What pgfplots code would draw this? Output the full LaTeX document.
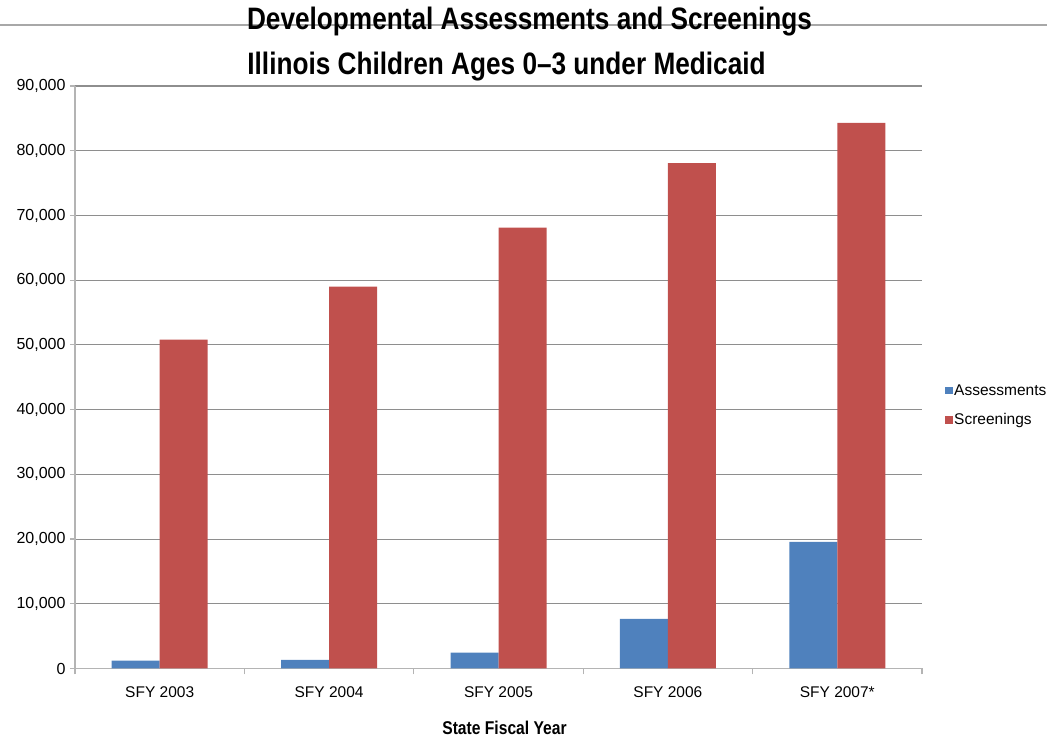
\documentclass[border=0pt]{standalone}
\usepackage{fontspec}
\setmainfont{Liberation Sans}
\newfontfamily\narrowfont[FakeStretch=0.845]{Liberation Sans}
\usepackage{pgfplots}
\pgfplotsset{compat=1.18}
\definecolor{cblue}{HTML}{4F81BD}
\definecolor{cred}{HTML}{C0504D}
\definecolor{gridgray}{HTML}{8E8E8E}
\definecolor{axisgray}{HTML}{B4B4B4}
\definecolor{rulegray}{HTML}{A8A8A8}
\begin{document}
\begin{tikzpicture}[x=1pt,y=1pt]
\path[use as bounding box] (0,0) rectangle (1047,741);
\draw[rulegray, line width=1.5pt] (0,716) -- (1047,716);
\node[anchor=base, inner sep=0] at (529.5,711) {\narrowfont\bfseries\fontsize{31}{36}\selectfont Developmental Assessments and Screenings};
\node[anchor=base, inner sep=0] at (506.5,666) {\narrowfont\bfseries\fontsize{31}{36}\selectfont Illinois Children Ages 0–3 under Medicaid};
\begin{axis}[
  at={(75pt,72.5pt)}, anchor=south west,
  width=847pt, height=582.5pt, scale only axis,
  ybar=0pt, bar width=48pt,
  xmin=-0.5, xmax=4.5, ymin=0, ymax=90000,
  xtick={0,1,2,3,4},
  xticklabels={SFY 2003,SFY 2004,SFY 2005,SFY 2006,SFY 2007*},
  minor xtick={-0.5,0.5,1.5,2.5,3.5,4.5},
  ytick={0,10000,...,90000},
  scaled y ticks=false,
  axis lines*=left,
  axis line style={draw=axisgray, line width=1.5pt},
  tick align=outside,
  major tick length=5pt, minor tick length=6pt,
  every major x tick/.append style={draw=none},
  tick style={draw=axisgray, line width=1.2pt},
  ymajorgrids,
  major grid style={draw=gridgray, line width=1.1pt},
  tick label style={font=\fontsize{15.5}{18}\selectfont},
  yticklabel style={font=\fontsize{16}{19}\selectfont, xshift=-1pt},
  xticklabel style={yshift=-10pt},
  /pgf/number format/.cd, 1000 sep={,}, assume math mode=true, /pgfplots/.cd,
  xlabel={State Fiscal Year},
  xlabel style={font=\narrowfont\bfseries\fontsize{18.5}{22}\selectfont, at={(axis description cs:0.5,0)}, anchor=center, yshift=-59.5pt, xshift=6pt},
  legend style={at={(1,0.4515)}, anchor=west, xshift=23pt, draw=none, fill=none, inner sep=0pt,
    font=\fontsize{15.5}{18}\selectfont, row sep=17pt,
    nodes={inner sep=0pt, anchor=west}},
  legend cell align=left,
  legend image code/.code={\fill[#1] (0pt,-3.5pt) rectangle (7.5pt,4pt);},
]
\addplot[fill=cblue, draw=none] coordinates {(0,1200) (1,1350) (2,2450) (3,7650) (4,19550)};
\addplot[fill=cred, draw=none] coordinates {(0,50800) (1,59000) (2,68100) (3,78100) (4,84300)};
\legend{\hspace{1.5pt}Assessments,\hspace{1.5pt}Screenings}
\end{axis}
\end{tikzpicture}
\end{document}
